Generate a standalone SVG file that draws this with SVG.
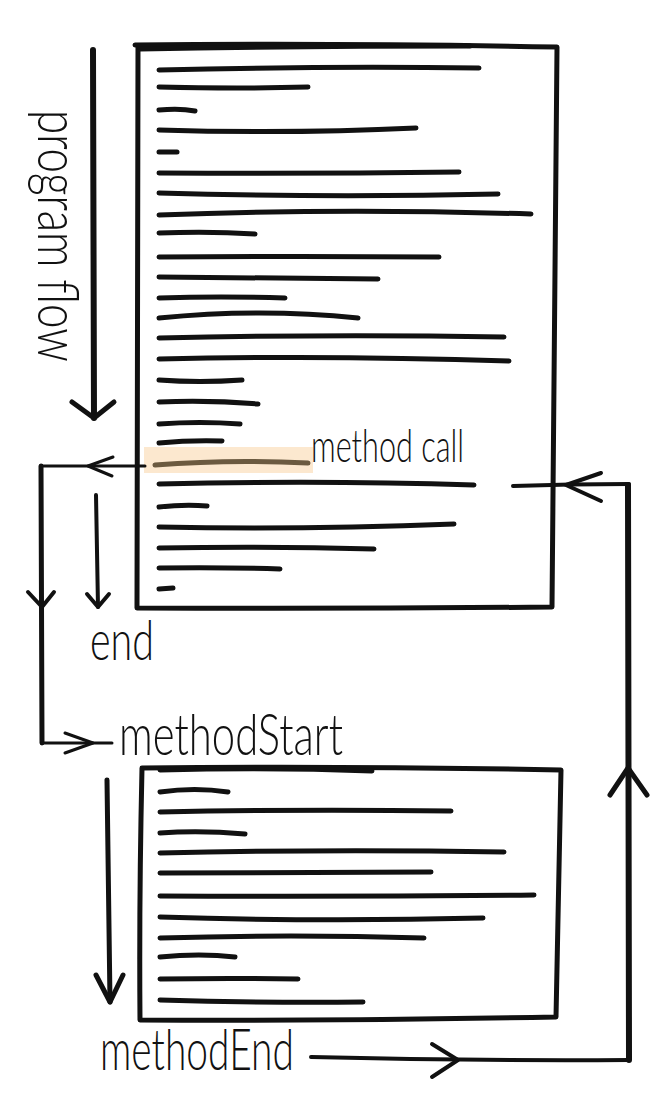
<svg xmlns="http://www.w3.org/2000/svg" width="672" height="1112" viewBox="0 0 672 1112">
<style>
.edge{fill:none;stroke:#111;stroke-width:5;stroke-linecap:round;stroke-linejoin:round}
.ln{fill:none;stroke:#111;stroke-width:5;stroke-linecap:round}
.hl{fill:none;stroke:#6b5a40;stroke-width:5;stroke-linecap:round}
.c{fill:none;stroke:#111;stroke-linecap:round;stroke-linejoin:round}
.lbl{font-family:Lato,"Liberation Sans",sans-serif;font-weight:300;fill:#111}
</style>
<rect width="672" height="1112" fill="#fff"/>

<g id="program-flow-label">
<text class="lbl" font-size="58" transform="translate(38,110) rotate(90)" textLength="252" lengthAdjust="spacingAndGlyphs">program flow</text>
</g>

<g id="main-program">
<path class="edge" d="M135,45 Q340,43 557,47 L552,607 Q340,609 137,608 Q138,330 138,45"/>
<path class="edge" stroke-width="3" d="M140,49 Q300,46 470,46"/>
<rect x="144" y="447" width="169" height="26" fill="#fce8cf"/>
<path class="ln" d="M159,70 Q320,66 479,68"/>
<path class="ln" d="M159,87 Q240,89 308,87"/>
<path class="ln" d="M159,110 Q180,108 195,111"/>
<path class="ln" d="M159,130 Q290,134 416,128"/>
<path class="ln" d="M159,152 L177,152"/>
<path class="ln" d="M159,173 Q310,174 459,172"/>
<path class="ln" d="M159,193 Q330,198 498,194"/>
<path class="ln" d="M159,215 Q340,208 531,214"/>
<path class="ln" d="M159,233 Q210,231 255,234"/>
<path class="ln" d="M159,257 Q300,256 439,257"/>
<path class="ln" d="M159,277 Q270,278 378,279"/>
<path class="ln" d="M159,298 Q220,296 285,298"/>
<path class="ln" d="M159,318 Q260,308 358,318"/>
<path class="ln" d="M159,338 Q330,334 504,337"/>
<path class="ln" d="M159,359 Q330,355 509,361"/>
<path class="ln" d="M159,380 Q200,383 242,380"/>
<path class="ln" d="M159,402 Q210,400 258,404"/>
<path class="ln" d="M159,424 Q200,421 240,424"/>
<path class="ln" d="M159,443 Q190,440 222,441"/>
<path class="hl" d="M155,465 Q230,459 308,463"/>
<path class="ln" d="M159,484 Q320,480 474,485"/>
<path class="ln" d="M159,507 Q185,504 207,506"/>
<path class="ln" d="M159,527 Q300,530 454,524"/>
<path class="ln" d="M159,548 Q270,546 374,549"/>
<path class="ln" d="M159,568 Q220,567 280,569"/>
<path class="ln" d="M159,589 L173,588"/>
<text class="lbl" x="311" y="462" font-size="46" textLength="153" lengthAdjust="spacingAndGlyphs">method call</text>
</g>

<g id="end-label">
<text class="lbl" x="90" y="660" font-size="56" textLength="64" lengthAdjust="spacingAndGlyphs">end</text>
</g>

<g id="method">
<path class="edge" d="M142,768 Q350,766 561,770 L556,1017 Q350,1021 140,1020 Q139,900 142,768"/>
<path class="ln" d="M160,770 Q270,767 372,771"/>
<path class="ln" d="M160,792 Q195,787 228,792"/>
<path class="ln" d="M160,812 Q300,809 451,811"/>
<path class="ln" d="M160,833 Q200,830 245,834"/>
<path class="ln" d="M160,853 Q330,849 504,852"/>
<path class="ln" d="M160,873 Q300,872 431,872"/>
<path class="ln" d="M160,896 Q350,897 534,895"/>
<path class="ln" d="M160,917 Q320,922 483,918"/>
<path class="ln" d="M160,938 Q290,934 424,938"/>
<path class="ln" d="M160,957 Q200,953 235,957"/>
<path class="ln" d="M160,979 Q230,978 298,979"/>
<path class="ln" d="M160,1000 Q260,1003 363,1002"/>
<text class="lbl" x="119" y="755" font-size="57" textLength="224" lengthAdjust="spacingAndGlyphs">methodStart</text>
<text class="lbl" x="100" y="1070" font-size="58" textLength="194" lengthAdjust="spacingAndGlyphs">methodEnd</text>
</g>

<g id="connectors">
<path class="c" stroke-width="6" d="M93,50 L94,418"/>
<path class="c" stroke-width="5" d="M72,402 L94,418 L114,402"/>

<path class="c" stroke-width="3" d="M145,466 L41,466"/>
<path class="c" stroke-width="3" d="M113,457 L88,466 L112,476"/>
<path class="c" stroke-width="5" d="M41,466 L42,743"/>
<path class="c" stroke-width="4" d="M28,592 L42,607 L54,592"/>
<path class="c" stroke-width="3" d="M42,743 L112,743"/>
<path class="c" stroke-width="3" d="M65,733 L93,743 L65,753"/>

<path class="c" stroke-width="4" d="M96,495 L98,607"/>
<path class="c" stroke-width="4" d="M87,594 L98,607 L109,594"/>

<path class="c" stroke-width="5" d="M107,780 L110,1002"/>
<path class="c" stroke-width="5" d="M96,975 L110,1002 L123,975"/>

<path class="c" stroke-width="4" d="M311,1057 Q470,1061 629,1060"/>
<path class="c" stroke-width="4" d="M432,1044 L458,1060 L432,1077"/>
<path class="c" stroke-width="6" d="M629,1060 L628,485"/>
<path class="c" stroke-width="5" d="M610,795 L628,768 L647,795"/>
<path class="c" stroke-width="4" d="M629,484 Q570,484 513,486"/>
<path class="c" stroke-width="4" d="M601,473 L566,485 L601,501"/>
</g>
</svg>
